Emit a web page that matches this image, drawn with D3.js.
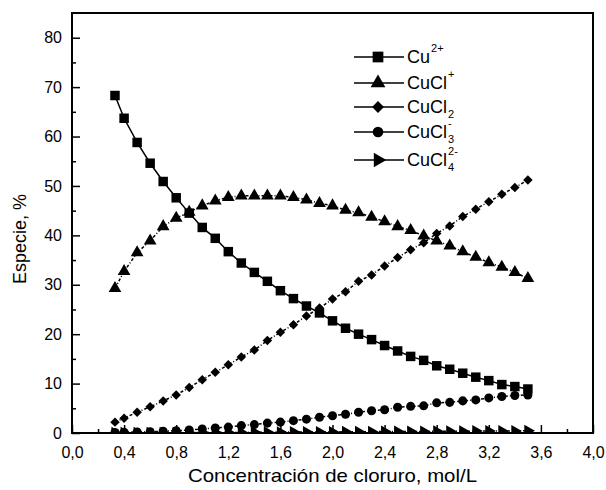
<!DOCTYPE html>
<html>
<head>
<meta charset="utf-8">
<script src="https://cdn.jsdelivr.net/npm/d3@7"></script>
<style>
  body { margin: 0; background: #fff; }
  svg { display: block; font-family: "Liberation Sans", Arial, sans-serif; }
</style>
</head>
<body>
<svg id="chart" width="606" height="490"></svg>
<script>
// chloride concentration, mol/L
const conc = [0.33, 0.4, 0.5, 0.6, 0.7, 0.8, 0.9, 1.0, 1.1, 1.2, 1.3, 1.4, 1.5, 1.6, 1.7, 1.8, 1.9,
  2.0, 2.1, 2.2, 2.3, 2.4, 2.5, 2.6, 2.7, 2.8, 2.9, 3.0, 3.1, 3.2, 3.3, 3.4, 3.5];
// species, %
const cu2 = [68.3, 63.7, 58.8, 54.6, 50.9, 47.6, 44.5, 41.6, 39.4, 36.7, 34.4, 32.5, 30.7, 28.8, 27.2, 25.7, 24.3,
  22.7, 21.2, 20.0, 18.9, 17.7, 16.6, 15.5, 14.7, 13.6, 12.9, 12.1, 11.3, 10.6, 9.8, 9.4, 8.9];
const cucl = [29.3, 32.7, 36.5, 38.9, 41.8, 43.5, 44.7, 46.0, 47.0, 47.7, 48.0, 48.0, 48.0, 48.0, 47.7, 47.2, 46.5,
  46.0, 45.1, 44.6, 43.7, 42.8, 41.8, 41.0, 39.9, 38.9, 37.9, 36.7, 35.6, 34.5, 33.6, 32.5, 31.3];
const cucl2 = [2.2, 3.0, 4.2, 5.3, 6.5, 7.7, 9.2, 10.8, 12.3, 13.8, 15.4, 16.8, 18.7, 20.4, 21.9, 23.7, 25.3,
  27.1, 28.6, 30.7, 32.0, 33.8, 35.5, 37.1, 38.5, 40.4, 41.9, 43.8, 45.3, 46.8, 48.3, 49.7, 51.2];
const cucl3 = [0.1, 0.15, 0.2, 0.25, 0.35, 0.45, 0.6, 0.8, 1.0, 1.2, 1.5, 1.7, 2.0, 2.2, 2.5, 2.8, 3.2,
  3.5, 3.8, 4.2, 4.5, 4.7, 5.2, 5.4, 5.5, 6.1, 6.2, 6.5, 6.7, 7.1, 7.4, 7.6, 7.7];
const cucl4 = [0.0, 0.0, 0.0, 0.0, 0.0, 0.05, 0.05, 0.1, 0.1, 0.1, 0.1, 0.15, 0.15, 0.15, 0.2, 0.2, 0.2,
  0.2, 0.25, 0.25, 0.25, 0.3, 0.3, 0.3, 0.3, 0.35, 0.35, 0.35, 0.4, 0.4, 0.4, 0.4, 0.45];

const xTicks = [0, 0.4, 0.8, 1.2, 1.6, 2.0, 2.4, 2.8, 3.2, 3.6, 4.0];
const yTicks = [0, 10, 20, 30, 40, 50, 60, 70, 80];

const series = [
  { name: "Cu", sup: "2+", sub: "", values: cu2, symbol: d3.symbolSquare, size: 90, rot: 0, dash: null },
  { name: "CuCl", sup: "+", sub: "", values: cucl, symbol: d3.symbolTriangle, size: 70, rot: 0, dash: "3,2,1,2" },
  { name: "CuCl", sup: "", sub: "2", values: cucl2, symbol: d3.symbolSquare, size: 45, rot: 45, dash: "3,2,1,2" },
  { name: "CuCl", sup: "-", sub: "3", values: cucl3, symbol: d3.symbolCircle, size: 64, rot: 0, dash: "3,2,1,2" },
  { name: "CuCl", sup: "2-", sub: "4", values: cucl4, symbol: d3.symbolTriangle, size: 65, rot: 90, dash: "3,2,1,2" }
];

const svg = d3.select("#chart");
const mLeft = 72, mRight = 593, mTop = 13, mBottom = 433;

const x = d3.scaleLinear().domain([0, 4]).range([mLeft, mRight]);
const y = d3.scaleLinear().domain([0, 85]).range([mBottom, mTop]);

const fmt = (d) => d3.format(".1f")(d).replace(".", ",");

svg.append("defs").append("clipPath").attr("id", "plotClip")
  .append("rect")
  .attr("x", mLeft).attr("y", mTop)
  .attr("width", mRight - mLeft).attr("height", mBottom - mTop);

// minor ticks
svg.append("g")
  .attr("transform", `translate(0,${mBottom})`)
  .call(d3.axisBottom(x).tickValues(d3.range(0.2, 4, 0.4)).tickSize(-4).tickFormat(""))
  .call((g) => g.select(".domain").remove());
svg.append("g")
  .attr("transform", `translate(${mLeft},0)`)
  .call(d3.axisLeft(y).tickValues(d3.range(5, 85, 10)).tickSize(-4).tickFormat(""))
  .call((g) => g.select(".domain").remove());

// major ticks and labels
const xAxis = svg.append("g")
  .attr("transform", `translate(0,${mBottom})`)
  .call(d3.axisBottom(x).tickValues(xTicks).tickSizeInner(-8).tickSizeOuter(0).tickPadding(14).tickFormat(fmt));
xAxis.select(".domain").remove();
xAxis.selectAll("text").attr("font-size", 16).attr("fill", "#000");
xAxis.attr("font-family", null);

const yAxis = svg.append("g")
  .attr("transform", `translate(${mLeft},0)`)
  .call(d3.axisLeft(y).tickValues(yTicks).tickSizeInner(-8).tickSizeOuter(0).tickPadding(10).tickFormat(d3.format("d")));
yAxis.select(".domain").remove();
yAxis.selectAll("text").attr("font-size", 16).attr("fill", "#000");
yAxis.attr("font-family", null);

svg.selectAll(".tick line").attr("stroke", "#000").attr("stroke-width", 1.5);

// frame
svg.append("rect")
  .attr("x", mLeft).attr("y", mTop)
  .attr("width", mRight - mLeft).attr("height", mBottom - mTop)
  .attr("fill", "none").attr("stroke", "#000").attr("stroke-width", 2);

// curves
const plot = svg.append("g").attr("clip-path", "url(#plotClip)");
const line = d3.line().x((d) => x(d[0])).y((d) => y(d[1]));

series.forEach((s) => {
  const pts = conc.map((c, i) => [c, s.values[i]]);
  plot.append("path")
    .datum(pts)
    .attr("d", line)
    .attr("fill", "none")
    .attr("stroke", "#000")
    .attr("stroke-width", 1.5)
    .attr("stroke-dasharray", s.dash);
  plot.selectAll(null)
    .data(pts)
    .enter()
    .append("path")
    .attr("d", d3.symbol().type(s.symbol).size(s.size))
    .attr("transform", (d) => `translate(${x(d[0])},${y(d[1])}) rotate(${s.rot})`)
    .attr("fill", "#000");
});

// legend
const legRows = [57, 83, 107, 132, 160];
series.forEach((s, i) => {
  const ly = legRows[i];
  const g = svg.append("g");
  g.append("line")
    .attr("x1", 354).attr("x2", 404)
    .attr("y1", ly).attr("y2", ly)
    .attr("stroke", "#000").attr("stroke-width", 1.5);
  g.append("path")
    .attr("d", d3.symbol().type(s.symbol).size(s.size + 25))
    .attr("transform", `translate(378,${ly}) rotate(${s.rot})`)
    .attr("fill", "#000");
  const t = g.append("text")
    .attr("x", 407).attr("y", ly + 6)
    .attr("font-size", 18)
    .text(s.name);
  const w = t.node().getComputedTextLength();
  if (s.sup) {
    g.append("text").attr("x", 407 + w + 1).attr("y", ly - 5)
      .attr("font-size", 11).text(s.sup);
  }
  if (s.sub) {
    g.append("text").attr("x", 407 + w + 1).attr("y", ly + 11)
      .attr("font-size", 11).text(s.sub);
  }
});

// axis titles
svg.append("text")
  .attr("x", (mLeft + mRight) / 2).attr("y", 482)
  .attr("text-anchor", "middle")
  .attr("font-size", 19)
  .attr("textLength", 289)
  .attr("lengthAdjust", "spacingAndGlyphs")
  .text("Concentración de cloruro, mol/L");

svg.append("text")
  .attr("transform", "translate(26,239) rotate(-90)")
  .attr("text-anchor", "middle")
  .attr("font-size", 18)
  .text("Especie, %");
</script>
</body>
</html>
